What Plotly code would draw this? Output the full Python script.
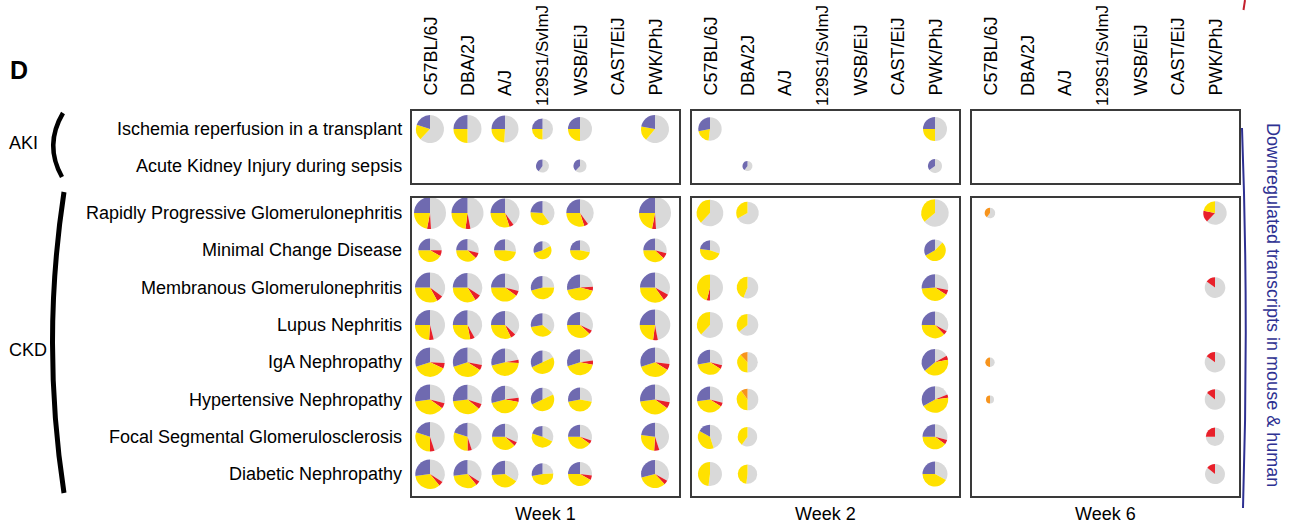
import math
import plotly.graph_objects as go

W, H = 1295, 523

# ---------------------------------------------------------------- data
STRAINS = ["C57BL/6J", "DBA/2J", "A/J", "129S1/SvImJ", "WSB/EiJ", "CAST/EiJ", "PWK/PhJ"]
WEEKS = ["Week 1", "Week 2", "Week 6"]
AKI_DISEASES = ["Ischemia reperfusion in a transplant",
                "Acute Kidney Injury during sepsis"]
CKD_DISEASES = ["Rapidly Progressive Glomerulonephritis",
                "Minimal Change Disease",
                "Membranous Glomerulonephritis",
                "Lupus Nephritis",
                "IgA Nephropathy",
                "Hypertensive Nephropathy",
                "Focal Segmental Glomerulosclerosis",
                "Diabetic Nephropathy"]
GROUPS = ["AKI", "CKD"]
SIDE_LABEL = "Downregulated transcripts in mouse & human"

# slice categories, laid out counter-clockwise from 12 o'clock
SEGMENTS = ["set 1", "set 2", "set 3", "set 4", "other"]

# number of overlapping transcripts (rows = diseases, AKI then CKD; cols = strains)
WEEK1_TOTAL = [
    [784, 784, 729, 441, 576, 0, 784],
    [0, 0, 0, 169, 169, 0, 0],
    [1024, 1024, 841, 576, 751, 0, 1024],
    [548, 511, 484, 324, 400, 0, 548],
    [900, 864, 784, 548, 676, 0, 900],
    [900, 864, 784, 548, 676, 0, 936],
    [864, 864, 751, 548, 676, 0, 864],
    [900, 864, 751, 548, 576, 0, 900],
    [864, 784, 676, 467, 576, 0, 784],
    [864, 784, 708, 467, 576, 0, 784],
]
# percentage split of each pie over SEGMENTS
WEEK1_SHARE = [
    [(20, 0, 18, 0, 62), (25, 0, 25, 0, 50), (25, 0, 24, 0, 51), (25, 0, 25, 0, 50), (25, 0, 25, 0, 50), None, (22, 0, 17, 0, 61)],
    [None, None, None, (40, 0, 0, 0, 60), (38, 0, 0, 0, 62), None, None],
    [(25, 0, 22, 4, 49), (25, 0, 23, 5, 47), (25, 0, 30, 5, 40), (24, 0, 36, 0, 40), (25, 0, 30, 5, 40), None, (25, 0, 22, 4, 49)],
    [(25, 0, 42, 8, 25), (25, 0, 38, 8, 29), (25, 0, 48, 0, 27), (30, 0, 53, 0, 17), (25, 0, 47, 0, 28), None, (25, 0, 38, 8, 29)],
    [(25, 0, 33, 7, 35), (25, 0, 34, 7, 34), (25, 0, 40, 6, 29), (29, 0, 46, 0, 25), (28, 0, 43, 5, 24), None, (25, 0, 35, 7, 33)],
    [(25, 0, 24, 5, 46), (25, 0, 28, 5, 42), (25, 0, 32, 6, 37), (28, 0, 36, 0, 36), (25, 0, 38, 5, 32), None, (25, 0, 23, 5, 47)],
    [(30, 0, 38, 6, 26), (30, 0, 36, 6, 28), (29, 0, 45, 4, 22), (32, 0, 50, 0, 18), (30, 0, 42, 5, 23), None, (30, 0, 36, 7, 27)],
    [(27, 0, 38, 6, 29), (27, 0, 37, 6, 30), (29, 0, 43, 5, 23), (32, 0, 50, 0, 18), (28, 0, 44, 0, 28), None, (27, 0, 38, 7, 28)],
    [(20, 0, 30, 5, 45), (20, 0, 30, 5, 45), (25, 0, 38, 5, 32), (20, 0, 48, 0, 32), (25, 0, 40, 5, 30), None, (23, 0, 26, 6, 45)],
    [(27, 0, 34, 5, 34), (27, 0, 34, 5, 34), (26, 0, 40, 0, 34), (28, 0, 48, 0, 24), (25, 0, 42, 6, 27), None, (29, 0, 33, 5, 33)],
]

WEEK2_TOTAL = [
    [548, 0, 0, 0, 0, 0, 576],
    [0, 100, 0, 0, 0, 0, 196],
    [708, 511, 0, 0, 0, 0, 751],
    [400, 0, 0, 0, 0, 0, 467],
    [676, 467, 0, 0, 0, 0, 708],
    [676, 467, 0, 0, 0, 0, 708],
    [625, 424, 0, 0, 0, 0, 708],
    [676, 467, 0, 0, 0, 0, 708],
    [576, 376, 0, 0, 0, 0, 625],
    [576, 376, 0, 0, 0, 0, 625],
]
WEEK2_SHARE = [
    [(28, 0, 20, 0, 52), None, None, None, None, None, (25, 0, 25, 0, 50)],
    [None, (40, 0, 0, 0, 60), None, None, None, None, (35, 0, 0, 0, 65)],
    [(0, 0, 38, 0, 62), (0, 0, 33, 0, 67), None, None, None, None, (0, 0, 36, 0, 64)],
    [(23, 0, 47, 0, 30), None, None, None, None, None, (33, 0, 55, 0, 12)],
    [(0, 0, 46, 4, 50), (0, 0, 44, 0, 56), None, None, None, None, (26, 0, 40, 6, 28)],
    [(0, 0, 38, 0, 62), (0, 0, 36, 0, 64), None, None, None, None, (25, 0, 37, 5, 33)],
    [(28, 0, 38, 5, 29), (0, 12, 38, 0, 50), None, None, None, None, (36, 0, 42, 5, 17)],
    [(27, 0, 39, 5, 29), (0, 10, 40, 0, 50), None, None, None, None, (33, 0, 44, 4, 19)],
    [(17, 0, 38, 0, 45), (0, 0, 40, 0, 60), None, None, None, None, (25, 0, 40, 6, 29)],
    [(0, 0, 48, 0, 52), (0, 0, 48, 0, 52), None, None, None, None, (25, 0, 42, 0, 33)],
]

WEEK6_TOTAL = [
    [0, 0, 0, 0, 0, 0, 0],
    [0, 0, 0, 0, 0, 0, 0],
    [112, 0, 0, 0, 0, 0, 548],
    [0, 0, 0, 0, 0, 0, 0],
    [0, 0, 0, 0, 0, 0, 424],
    [0, 0, 0, 0, 0, 0, 0],
    [88, 0, 0, 0, 0, 0, 424],
    [64, 0, 0, 0, 0, 0, 424],
    [0, 0, 0, 0, 0, 0, 339],
    [0, 0, 0, 0, 0, 0, 400],
]
WEEK6_SHARE = [
    [None] * 7,
    [None] * 7,
    [(0, 40, 0, 0, 60), None, None, None, None, None, (0, 0, 22, 16, 62)],
    [None] * 7,
    [None, None, None, None, None, None, (0, 0, 0, 15, 85)],
    [None] * 7,
    [(0, 50, 0, 0, 50), None, None, None, None, None, (0, 0, 0, 15, 85)],
    [(0, 50, 0, 0, 50), None, None, None, None, None, (0, 0, 0, 14, 86)],
    [None, None, None, None, None, None, (0, 0, 0, 25, 75)],
    [None, None, None, None, None, None, (0, 0, 0, 14, 86)],
]

# ---------------------------------------------------------------- styling / layout
SEGMENT_COLORS = ["#6f6ab0", "#f7941d", "#ffe100", "#e8202a", "#d9d9d9"]
FONT = "Liberation Sans, Arial, Helvetica, sans-serif"
NAVY = "#2e3192"
BOX_LINE = "#3a3a3a"

PANEL_LEFT = [411, 691, 971]
PANEL_W = 269
COL_OFFSET = 19
COL_STEP = 37.5
AKI_ROWS_Y = [129, 166]
CKD_ROW0, CKD_STEP = 213, 37.3
AKI_BOX = (110, 184)
CKD_BOX = (197, 497)
PX_PER_SQRT = 0.5          # pie radius (px) per sqrt(transcript count)

row_y = AKI_ROWS_Y + [CKD_ROW0 + CKD_STEP * i for i in range(len(CKD_DISEASES))]


def col_x(panel, c):
    return PANEL_LEFT[panel] + COL_OFFSET + COL_STEP * c


fig = go.Figure()

# Slices are fed in reverse and drawn clockwise from 12 o'clock, so the
# first category ends up immediately counter-clockwise of 12 o'clock.
rev_labels = SEGMENTS[::-1]
rev_colors = SEGMENT_COLORS[::-1]

weeks_data = [(WEEK1_TOTAL, WEEK1_SHARE), (WEEK2_TOTAL, WEEK2_SHARE), (WEEK6_TOTAL, WEEK6_SHARE)]
for p, (totals, shares) in enumerate(weeks_data):
    for r, (trow, srow) in enumerate(zip(totals, shares)):
        for c, (n, share) in enumerate(zip(trow, srow)):
            if not n or share is None:
                continue
            rad = PX_PER_SQRT * math.sqrt(n)
            cx, cy = col_x(p, c), row_y[r]
            fig.add_trace(go.Pie(
                values=list(share)[::-1],
                labels=rev_labels,
                marker=dict(colors=rev_colors, line=dict(width=0)),
                sort=False,
                direction="clockwise",
                rotation=0,
                textinfo="none",
                hoverinfo="skip",
                showlegend=False,
                domain=dict(x=[(cx - rad) / W, (cx + rad) / W],
                            y=[1 - (cy + rad) / H, 1 - (cy - rad) / H]),
            ))

shapes = []
annotations = []

# panel frames and week titles
for p, week in enumerate(WEEKS):
    x0 = PANEL_LEFT[p]
    x1 = x0 + PANEL_W
    for y0, y1 in (AKI_BOX, CKD_BOX):
        shapes.append(dict(type="rect", xref="x", yref="y", x0=x0, x1=x1, y0=y0, y1=y1,
                           line=dict(color=BOX_LINE, width=2), fillcolor="rgba(0,0,0,0)"))
    annotations.append(dict(x=(x0 + x1) / 2, y=514, text=week, showarrow=False,
                            xanchor="center", yanchor="middle",
                            font=dict(size=18, color="#000")))
    # rotated strain headers
    for c, s in enumerate(STRAINS):
        long_name = s.startswith("129")
        annotations.append(dict(x=col_x(p, c), y=107 if long_name else 97, text=s,
                                showarrow=False, textangle=-90, borderpad=0,
                                xanchor="center", yanchor="bottom",
                                font=dict(size=17 if long_name else 18, color="#000")))

# disease row labels
for name, y in zip(AKI_DISEASES + CKD_DISEASES, row_y):
    annotations.append(dict(x=404, y=y, text=name, showarrow=False,
                            xanchor="right", yanchor="middle",
                            font=dict(size=18, color="#000")))

# group labels with brackets
annotations.append(dict(x=23, y=143, text=GROUPS[0], showarrow=False,
                        xanchor="center", yanchor="middle", font=dict(size=18, color="#000")))
annotations.append(dict(x=28, y=350, text=GROUPS[1], showarrow=False,
                        xanchor="center", yanchor="middle", font=dict(size=18, color="#000")))
shapes.append(dict(type="path", xref="x", yref="y", path="M 63,113 Q 44,145 62,177",
                   line=dict(color="#000", width=4.5)))
shapes.append(dict(type="path", xref="x", yref="y", path="M 64,192 Q 41,343 64,493",
                   line=dict(color="#000", width=5)))

# panel letter
annotations.append(dict(x=19, y=70, text="<b>D</b>", showarrow=False,
                        xanchor="center", yanchor="middle", font=dict(size=25, color="#000")))

# right-hand bracket and vertical label
shapes.append(dict(type="path", xref="x", yref="y", path="M 1242,128 Q 1249,318 1243,508",
                   line=dict(color=NAVY, width=2)))
shapes.append(dict(type="line", xref="x", yref="y", x0=1245, y0=0, x1=1243.5, y1=10,
                   line=dict(color="#c4202e", width=2)))
annotations.append(dict(x=1273, y=305, text=SIDE_LABEL, showarrow=False, textangle=90,
                        xanchor="center", yanchor="middle", font=dict(size=18, color=NAVY)))

fig.update_layout(
    width=W, height=H,
    margin=dict(l=0, r=0, t=0, b=0),
    paper_bgcolor="white", plot_bgcolor="white",
    font=dict(family=FONT, size=18, color="#000"),
    xaxis=dict(range=[0, W], visible=False, fixedrange=True, domain=[0, 1]),
    yaxis=dict(range=[H, 0], visible=False, fixedrange=True, domain=[0, 1]),
    shapes=shapes,
    annotations=annotations,
    showlegend=False,
)

fig.write_html("out.html", config={"displayModeBar": False})
